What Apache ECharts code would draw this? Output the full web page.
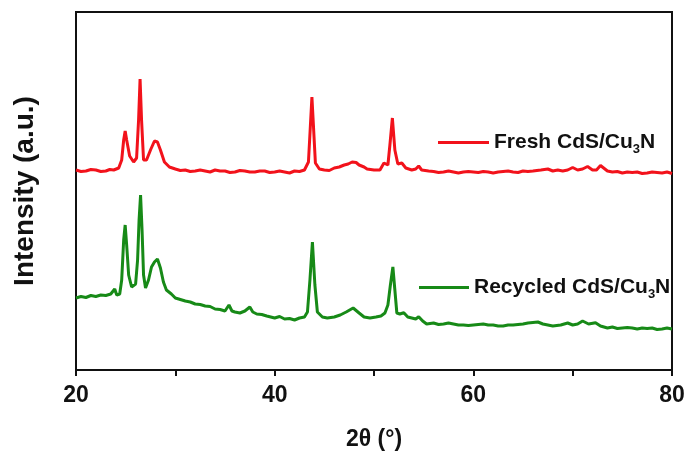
<!DOCTYPE html>
<html>
<head>
<meta charset="utf-8">
<script src="https://cdn.jsdelivr.net/npm/echarts@6/dist/echarts.min.js"></script>
<style>html,body{margin:0;padding:0;background:#fff;}#c{width:689px;height:459px;}</style>
</head>
<body>
<div id="c"></div>
<script>
// 2θ positions (degrees) and intensity (a.u.)
const freshX = [20.0,20.5,21.0,21.5,22.0,22.5,23.0,23.4,23.8,24.3,24.6,24.8,24.95,25.1,25.4,25.8,26.1,26.3,26.45,26.6,26.8,27.1,27.5,27.9,28.2,28.5,28.9,29.4,30.0,30.5,31,31.5,32,32.5,33,33.5,34,34.5,35,35.5,36,36.5,37,37.5,38,38.5,39,39.5,40,40.5,41,41.5,42,42.5,43,43.4,43.6,43.75,43.9,44.1,44.5,45,45.5,46,46.5,47,47.4,47.8,48.2,48.5,49.0,49.3,50,50.6,51.0,51.4,51.6,51.85,52.1,52.4,52.8,53.2,53.8,54.2,54.5,54.8,55.5,56,56.5,57,57.5,58,58.5,59,59.5,60,60.5,61,61.5,62,62.5,63,63.5,64,64.5,65,65.5,66,66.8,67.5,68,68.5,69.0,69.5,70.0,70.5,71.0,71.5,72.0,72.4,72.8,73.5,74,74.5,75,75.5,76,76.5,77,77.5,78,78.5,79,79.5,80];
const freshY = [2000,1985,1990,2005,2000,1985,1990,2005,2000,2020,2100,2300,2390,2300,2140,2080,2120,2500,2910,2500,2100,2100,2200,2290,2280,2200,2080,2030,2010,1995,2000,1985,1990,2000,1990,1980,2000,1990,1990,1975,1980,1995,1990,1980,1980,1990,1990,1975,1980,1990,1980,1970,1990,1985,2000,2080,2450,2730,2450,2070,2010,2000,1995,2020,2030,2050,2060,2080,2075,2050,2030,2010,2000,2000,2070,2050,2250,2520,2200,2060,2070,2020,2000,2010,2040,2000,1990,1985,1975,1980,1990,1980,1970,1980,1985,1980,1975,1985,1980,1970,1980,1985,1990,1980,1975,1990,1985,1990,2000,2010,1990,2000,1990,2000,2025,2000,2010,2035,2000,2000,2045,1990,1980,1985,1970,1980,1975,1980,1965,1970,1980,1975,1970,1980,1965,1970];
const recycledX = [20.0,20.5,21.0,21.5,22.0,22.5,23.0,23.5,23.9,24.1,24.4,24.6,24.8,24.95,25.1,25.3,25.6,26.0,26.2,26.35,26.5,26.65,26.8,27.0,27.3,27.6,27.9,28.2,28.5,28.8,29.1,29.6,30.0,30.5,31.0,31.5,32.0,32.5,33.0,33.5,34.0,34.5,35.0,35.4,35.7,36.0,36.5,37.0,37.5,37.8,38.2,38.7,39.2,40.0,40.5,41.0,41.5,42.0,42.5,43.0,43.3,43.55,43.8,44.05,44.3,44.8,45.3,46.0,46.6,47.2,47.9,48.5,49.0,49.6,50.2,50.7,51.1,51.4,51.65,51.9,52.1,52.3,52.6,53.0,53.4,53.8,54.2,54.5,54.9,55.3,56,56.5,57,57.5,58,58.5,59,59.5,60,60.5,61,61.5,62,62.5,63,63.5,64,64.5,65,65.5,66,66.5,67,67.5,68,68.8,69.5,70.0,70.5,71.0,71.6,72.3,72.8,73.5,74,74.5,75,75.5,76,76.5,77,77.5,78,78.5,79,79.5,80];
const recycledY = [720,735,725,745,735,750,745,760,810,750,760,900,1300,1450,1250,950,830,860,1100,1500,1750,1400,950,820,900,1030,1080,1110,1020,880,800,760,720,705,690,680,660,655,640,635,610,605,590,650,590,580,570,590,630,580,560,555,540,520,535,510,515,500,520,530,580,900,1280,850,580,530,520,530,550,580,620,570,530,520,530,540,570,650,850,1030,800,570,560,573,530,520,510,533,490,460,470,455,460,470,460,450,450,445,450,455,460,450,450,440,440,450,450,455,460,470,475,480,460,450,440,450,470,450,460,490,460,473,440,420,430,415,420,425,420,410,420,415,420,405,410,420,410];
const xTickLabels = ['20','40','60','80'];
const seriesNames = ['Fresh CdS/Cu\u2083N','Recycled CdS/Cu\u2083N'];

const FONT = "'Liberation Sans', Arial, Helvetica, sans-serif";
const pair = (xs, ys) => xs.map((x, i) => [x, ys[i]]);
const richText = {
  a: {fontSize: 21, fontWeight: 'bold', fontFamily: FONT, color: '#111'},
  s: {fontSize: 13, fontWeight: 'bold', fontFamily: FONT, color: '#111', verticalAlign: 'bottom', padding: [14, 0, 0, 0]}
};
const legendFmt = name => '{a|' + name.replace('\u2083N', '') + '}{s|3}{a|N}';

const chart = echarts.init(document.getElementById('c'), null, {renderer: 'canvas'});
chart.setOption({
  animation: false,
  backgroundColor: '#fff',
  grid: {left: 76, right: 17, top: 12, bottom: 89, show: true, borderColor: '#111', borderWidth: 2, backgroundColor: 'transparent'},
  legend: [
    {data: [seriesNames[0]], left: 433, top: 127, itemWidth: 51, itemHeight: 3, itemGap: 0,
     icon: 'rect', formatter: legendFmt, textStyle: {rich: richText}, selectedMode: false},
    {data: [seriesNames[1]], left: 414, top: 272, itemWidth: 50, itemHeight: 3, itemGap: 0,
     icon: 'rect', formatter: legendFmt, textStyle: {rich: richText}, selectedMode: false}
  ],
  xAxis: {
    type: 'value', min: 20, max: 80, interval: 10,
    name: '2\u03b8 (\u00b0)', nameLocation: 'middle', nameGap: 58,
    nameTextStyle: {fontSize: 23, fontWeight: 'bold', fontFamily: FONT, color: '#111'},
    axisLine: {show: true, lineStyle: {color: '#111', width: 2}},
    axisTick: {show: true, inside: false, length: 6, lineStyle: {color: '#111', width: 2}},
    axisLabel: {fontSize: 23, fontWeight: 'bold', fontFamily: FONT, color: '#111', margin: 14,
      formatter: v => xTickLabels.includes(String(v)) ? String(v) : ''},
    splitLine: {show: false}
  },
  yAxis: {
    type: 'value', min: 0, max: 3580,
    name: 'Intensity (a.u.)', nameLocation: 'middle', nameGap: 37, nameRotate: 90,
    nameTextStyle: {fontSize: 28, fontWeight: 'bold', fontFamily: FONT, color: '#111'},
    axisLine: {show: true, lineStyle: {color: '#111', width: 2}},
    axisTick: {show: false}, axisLabel: {show: false}, splitLine: {show: false}
  },
  series: [
    {name: seriesNames[0], type: 'line', data: pair(freshX, freshY), showSymbol: false, symbol: 'none',
     lineStyle: {color: '#f2121b', width: 3}, itemStyle: {color: '#f2121b'}},
    {name: seriesNames[1], type: 'line', data: pair(recycledX, recycledY), showSymbol: false, symbol: 'none',
     lineStyle: {color: '#178a17', width: 3}, itemStyle: {color: '#178a17'}}
  ]
});
</script>
</body>
</html>
